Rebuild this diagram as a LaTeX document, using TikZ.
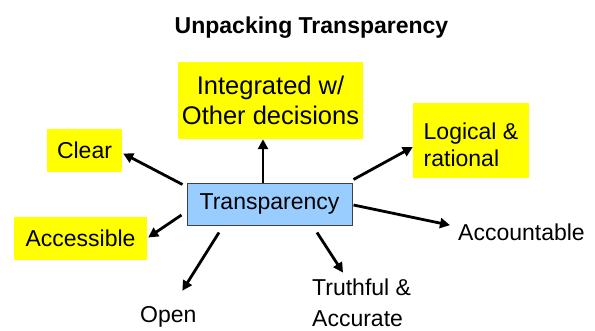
\documentclass[tikz,border=0pt]{standalone}
\usepackage{fontspec}
\setmainfont{Liberation Sans}
\usetikzlibrary{arrows.meta}
\definecolor{hiyellow}{RGB}{255,255,0}
\definecolor{hiblue}{RGB}{153,204,255}

\begin{document}
\begin{tikzpicture}[x=1pt,y=-1pt,
    txt/.style={font=\fontsize{23}{30}\selectfont, inner sep=0pt},
    yellowbox/.style={txt, fill=hiyellow},
    conn/.style={line width=2.8pt, -{Triangle[length=10pt,width=10pt]}}]
    \useasboundingbox (0,0) rectangle (595,330);

    \node[anchor=base, font=\bfseries\fontsize{23}{27}\selectfont] (title) at (311.5,33) {Unpacking Transparency};

    % centre box
    \node[txt, fill=hiblue, draw=black!75, line width=1pt,
          minimum width=165, minimum height=42] (tr) at (269.5,204) {Transparency};

    % highlighted items
    \node[yellowbox, font=\fontsize{25.5}{30.5}\selectfont, align=center,
          minimum width=185, minimum height=77] (integ) at (270.5,100.5) {Integrated w/\\Other decisions};
    \node[yellowbox, minimum width=75, minimum height=43] (clear) at (84.5,150.5) {Clear};
    \node[yellowbox, minimum width=133, minimum height=43] (access) at (80.5,238.5) {Accessible};
    \node[yellowbox, font=\fontsize{23}{27}\selectfont, align=left, text height=53pt,
          minimum width=116, minimum height=75] (logic) at (471,140.5) {Logical \&\\rational};

    % plain items
    \node[txt, anchor=base west] (acct) at (458,240) {Accountable};
    \node[txt, anchor=base west] (open) at (140,322) {Open};
    \node[txt, font=\fontsize{23}{31}\selectfont, anchor=base west, align=left] (truth) at (312,326) {Truthful \&\\Accurate};

    % arrows out of the centre box
    \draw[conn] ([xshift=-6.5pt]tr.north) -- ([xshift=-6.5pt]tr.north |- integ.south);
    \draw[conn] ([shift={(-4,2)}]tr.north west) -- ([shift={(1,3)}]clear.east);
    \draw[conn] ([shift={(-5,11)}]tr.west) -- ([shift={(1,-1)}]access.east);
    \draw[conn] ([shift={(1,-3)}]tr.north east) -- ([shift={(0,6.5)}]logic.west);
    \draw[conn] ([shift={(1,1)}]tr.east) -- ([shift={(-8,-6.6)}]acct.west);
    \draw[conn] ([shift={(-50.5,7)}]tr.south) -- ([shift={(14,-15)}]open.north);
    \draw[conn] ([shift={(47.5,7)}]tr.south) -- ([shift={(31,-5.5)}]truth.north west);
\end{tikzpicture}
\end{document}
